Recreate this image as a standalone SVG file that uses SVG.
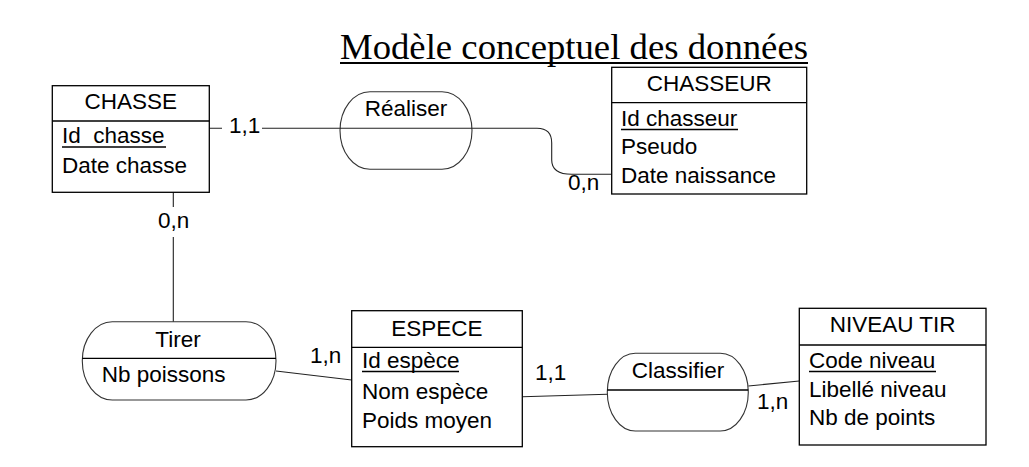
<svg xmlns="http://www.w3.org/2000/svg" width="1029" height="467" viewBox="0 0 1029 467">
<style>
.box{fill:#fff;stroke:#000;stroke-width:1.3}
.div{stroke:#000;stroke-width:1.3}
.t{font-family:"Liberation Sans",Arial,sans-serif;font-size:22.5px;fill:#000}
.c{text-anchor:middle}
.ul{stroke:#000;stroke-width:1.5}
.con{fill:none;stroke:#222;stroke-width:1.1}
.rel{fill:#fff;stroke:#333;stroke-width:1.1}
</style>
<rect width="1029" height="467" fill="#fff"/>
<g id="title">
<text x="340" y="59" font-family="'Liberation Serif','Times New Roman',serif" font-size="36.5" textLength="468" lengthAdjust="spacingAndGlyphs">Modèle conceptuel des données</text>
<line x1="340" y1="63" x2="808" y2="63" stroke="#000" stroke-width="2"/>
</g>
<g id="connectors">
<path class="con" d="M209,128.3 H222 M262,128.3 H537 Q551.7,128.3 551.7,143 V160 Q551.7,174.3 571.7,174.3 H611.7"/>
<path class="con" d="M173.3,192.3 V207 M173.3,237 V322"/>
<path class="con" d="M276,371 L351.7,380"/>
<path class="con" d="M522.3,396.7 L607.3,394.3"/>
<path class="con" d="M748.3,386 L799.3,381"/>
</g>
<g id="labels">
<text class="t" x="229" y="133">1,1</text>
<text class="t" x="568" y="189.5">0,n</text>
<text class="t" x="158" y="228">0,n</text>
<text class="t" x="310" y="363">1,n</text>
<text class="t" x="535" y="380">1,1</text>
<text class="t" x="757" y="408.5">1,n</text>
</g>
<g id="chasse">
<rect class="box" x="52.3" y="85.7" width="157" height="106.6"/>
<line class="div" x1="52.3" y1="121" x2="209.3" y2="121"/>
<text class="t c" x="130.8" y="109">CHASSE</text>
<text class="t" x="62" y="143" xml:space="preserve">Id  chasse</text>
<line class="ul" x1="62" y1="147" x2="166" y2="147"/>
<text class="t" x="62" y="173">Date chasse</text>
</g>
<g id="realiser">
<rect class="rel" x="340" y="91.7" width="132" height="77.6" rx="30" ry="38.8"/>
<line class="con" x1="340" y1="128.3" x2="472" y2="128.3"/>
<text class="t c" x="406" y="116">Réaliser</text>
</g>
<g id="chasseur">
<rect class="box" x="611.7" y="67.3" width="195" height="126.7"/>
<line class="div" x1="611.7" y1="102.7" x2="806.7" y2="102.7"/>
<text class="t c" x="709.2" y="91">CHASSEUR</text>
<text class="t" x="621" y="126">Id chasseur</text>
<line class="ul" x1="621" y1="129.5" x2="738" y2="129.5"/>
<text class="t" x="621" y="153.5">Pseudo</text>
<text class="t" x="621" y="182.5">Date naissance</text>
</g>
<g id="tirer">
<rect class="rel" x="82.3" y="321.7" width="193.7" height="78.3" rx="30" ry="39"/>
<line class="div" x1="82.3" y1="358.3" x2="276" y2="358.3" stroke-width="1.1"/>
<text class="t c" x="178" y="346.7">Tirer</text>
<text class="t" x="101.7" y="382.3">Nb poissons</text>
</g>
<g id="espece">
<rect class="box" x="351.7" y="310.7" width="170.6" height="136"/>
<line class="div" x1="351.7" y1="347.3" x2="522.3" y2="347.3"/>
<text class="t c" x="437" y="335.7">ESPECE</text>
<text class="t" x="362" y="368.3">Id espèce</text>
<line class="ul" x1="362" y1="371.5" x2="459" y2="371.5"/>
<text class="t" x="362" y="399">Nom espèce</text>
<text class="t" x="362" y="428.3">Poids moyen</text>
</g>
<g id="classifier">
<rect class="rel" x="607.3" y="353.3" width="141" height="77.7" rx="28" ry="38.8"/>
<line class="div" x1="607.3" y1="390" x2="748.3" y2="390" stroke-width="1.1"/>
<text class="t c" x="678" y="378.3">Classifier</text>
</g>
<g id="niveau-tir">
<rect class="box" x="799.3" y="308.3" width="186.7" height="136.7"/>
<line class="div" x1="799.3" y1="345" x2="986" y2="345"/>
<text class="t c" x="892.6" y="332.3">NIVEAU TIR</text>
<text class="t" x="809" y="368.3">Code niveau</text>
<line class="ul" x1="809" y1="371.5" x2="936" y2="371.5"/>
<text class="t" x="809" y="396.7">Libellé niveau</text>
<text class="t" x="809" y="425">Nb de points</text>
</g>
</svg>
